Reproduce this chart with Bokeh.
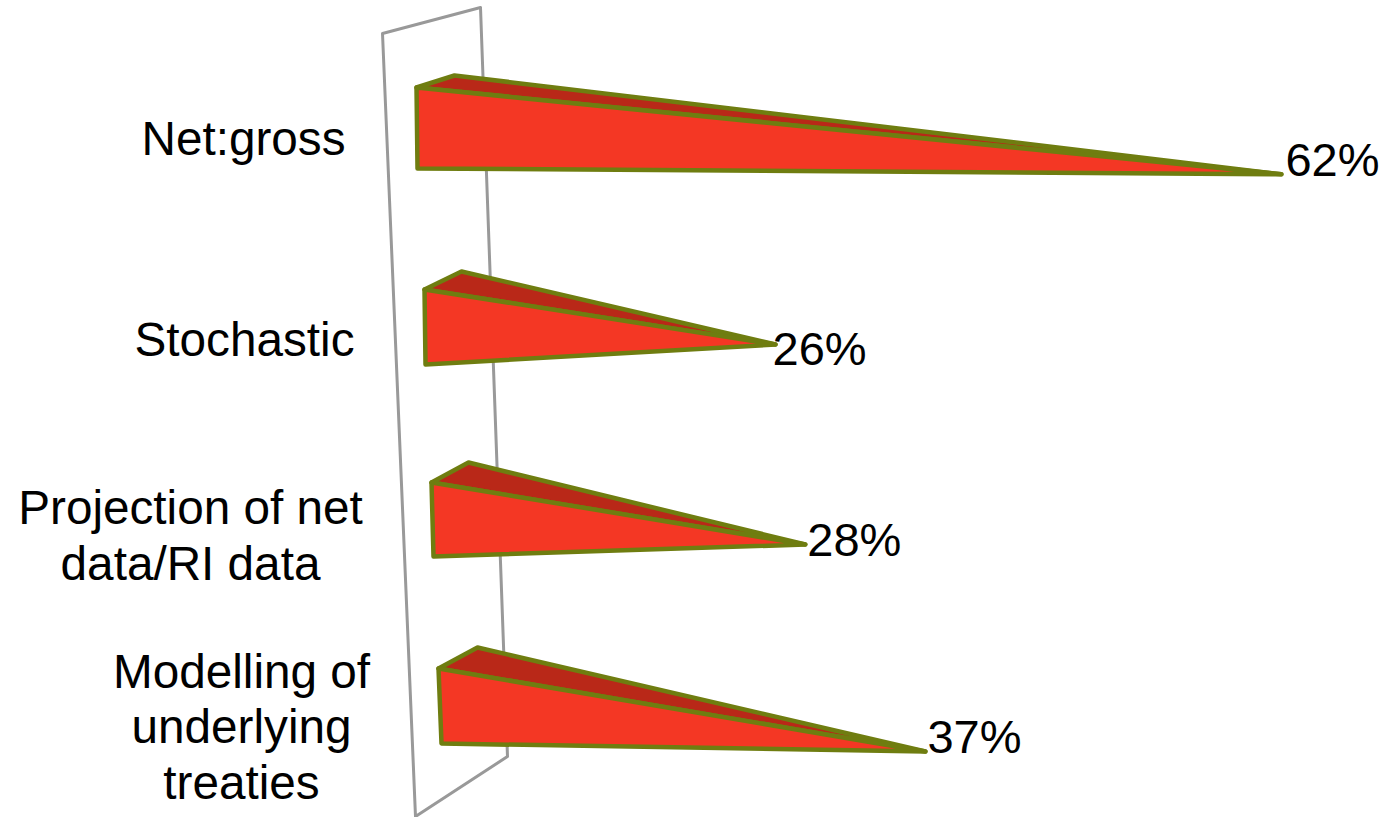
from bokeh.embed import file_html
from bokeh.models import ColumnDataSource, Range1d
from bokeh.plotting import figure
from bokeh.resources import INLINE
from bokeh.core.properties import value

# Survey results, one row per wedge, top to bottom
categories = ["Net:gross", "Stochastic", "Projection of net data/RI data", "Modelling of underlying treaties"]
category_lines = [["Net:gross"], ["Stochastic"], ["Projection of net", "data/RI data"], ["Modelling of", "underlying", "treaties"]]
percentages = [62, 26, 28, 37]

# Perspective frame of the tilted 3D scene, in page pixels for each row
FRONT_TOP = [(416, 87), (424, 289), (431, 482), (438, 668)]
FRONT_BOTTOM = [(417, 168), (425, 364), (433, 556), (441, 743)]
BACK_APEX = [(454, 75), (461, 271), (468, 462), (477, 647)]
X_PER_PERCENT = [13.95, 13.5, 13.35, 13.16]
Y_PER_PERCENT = [1.40, 2.115, 2.214, 2.243]
VALUE_LABEL_OFFSET = [(4, -15), (-3, 4), (2, -5), (2, -15)]
CATEGORY_CENTER = [(243, 138), (244, 339), (190, 535), (241, 726)]
LINE_STEP = 55.5
WALL_X = [382, 480, 507, 415]
WALL_Y = [33, 7, 756, 816]

FONT = value("Liberation Sans")
RED_FRONT = "#F43724"
RED_TOP = "#B92818"
EDGE = "#6F7D10"
WALL = "#999999"

p = figure(width=1387, height=817, output_backend="svg", toolbar_location=None,
           x_range=Range1d(0, 1387), y_range=Range1d(817, 0),
           min_border=0, outline_line_color=None, background_fill_color="white")
p.xaxis.visible = False
p.yaxis.visible = False
p.grid.visible = False

# Back wall of the chart, unfilled, behind the wedges
p.patch(WALL_X, WALL_Y, fill_color=None, line_color=WALL, line_width=3, line_join="round")


def tip_of(row, pct):
    """Project a percentage on a row to the point where its wedge ends."""
    x0, y0 = FRONT_TOP[row]
    return x0 + pct * X_PER_PERCENT[row], y0 + pct * Y_PER_PERCENT[row]


top_xs, top_ys, front_xs, front_ys = [], [], [], []
lab_x, lab_y, lab_t = [], [], []
for row, pct in enumerate(percentages):
    tx, ty = tip_of(row, pct)
    ft, fb, back = FRONT_TOP[row], FRONT_BOTTOM[row], BACK_APEX[row]
    top_xs.append([ft[0], back[0], tx])
    top_ys.append([ft[1], back[1], ty])
    front_xs.append([ft[0], fb[0], tx])
    front_ys.append([ft[1], fb[1], ty])
    dx, dy = VALUE_LABEL_OFFSET[row]
    lab_x.append(tx + dx)
    lab_y.append(ty + dy)
    lab_t.append(f"{pct}%")

p.patches(top_xs, top_ys, fill_color=RED_TOP, line_color=EDGE, line_width=4.5, line_join="round")
p.patches(front_xs, front_ys, fill_color=RED_FRONT, line_color=EDGE, line_width=4.5, line_join="round")

# Percentage labels beside each wedge tip
p.text(x="x", y="y", text="t", source=ColumnDataSource(dict(x=lab_x, y=lab_y, t=lab_t)),
       text_font=FONT, text_font_size="47px", text_color="black",
       text_align="left", text_baseline="middle")

# Category labels, centred line by line
cat_x, cat_y, cat_t = [], [], []
for (cx, cy), lines in zip(CATEGORY_CENTER, category_lines):
    first = cy - LINE_STEP * (len(lines) - 1) / 2
    for i, line in enumerate(lines):
        cat_x.append(cx)
        cat_y.append(first + i * LINE_STEP)
        cat_t.append(line)

p.text(x="x", y="y", text="t", source=ColumnDataSource(dict(x=cat_x, y=cat_y, t=cat_t)),
       text_font=FONT, text_font_size="47.7px", text_color="black",
       text_align="center", text_baseline="middle")

open("out.html", "w").write(file_html(p, INLINE))
